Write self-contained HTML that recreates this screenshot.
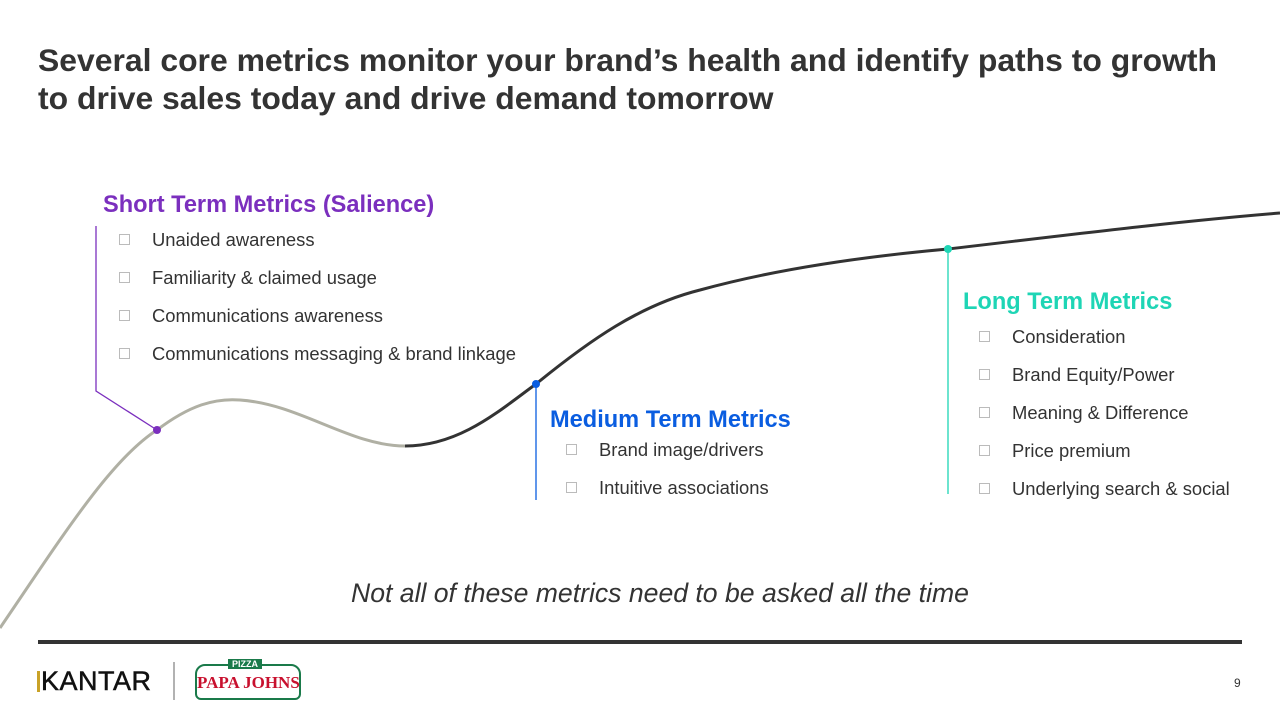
<!DOCTYPE html>
<html><head><meta charset="utf-8"><style>
body{margin:0;width:1280px;height:720px;position:relative;background:#fff;font-family:"Liberation Sans",Arial,sans-serif;overflow:hidden}
.t{position:absolute;white-space:nowrap}
h1{position:absolute;left:38px;top:41px;margin:0;font-size:31.9px;line-height:38px;font-weight:bold;color:#333}
.hd{font-weight:bold;font-size:23.6px}
.li{font-size:18.4px;color:#333}
.bx{display:inline-block;width:9px;height:9px;border:1px solid #bbb;margin-right:22px;vertical-align:1px}
</style></head><body>
<h1>Several core metrics monitor your brand’s health and identify paths to growth<br>to drive sales today and drive demand tomorrow</h1>
<svg width="1280" height="720" style="position:absolute;left:0;top:0">
<path d="M0,628 C60,540 110,460 157,430 C190,405 215,398 240,400 C300,404 350,446 405,446" fill="none" stroke="#b0b0a4" stroke-width="3"/>
<path d="M405,446 C460,446 500,410 536,384 C590,340 640,305 700,290 C780,268 870,256 948,249 C1060,236 1170,222 1280,213" fill="none" stroke="#333" stroke-width="3"/>
<polyline points="96,226 96,391 157,430" fill="none" stroke="#7b2fbe" stroke-width="1.3"/>
<circle cx="157" cy="430" r="4" fill="#7b2fbe"/>
<line x1="536" y1="384" x2="536" y2="500" stroke="#0a5de0" stroke-width="1.3"/>
<circle cx="536" cy="384" r="4" fill="#0a5de0"/>
<line x1="948" y1="249" x2="948" y2="494" stroke="#1ed5b5" stroke-width="1.3"/>
<circle cx="948" cy="249" r="4" fill="#1ed5b5"/>
<rect x="38" y="640" width="1204" height="4" fill="#333"/>
<line x1="174" y1="662" x2="174" y2="700" stroke="#999" stroke-width="1.5"/>
<rect x="37" y="671" width="3" height="21" fill="#c9a227"/>
</svg>
<div class="t hd" style="left:103px;top:192px;color:#7b2fbe">Short Term Metrics (Salience)</div>
<div class="t li" style="left:119px;top:229px"><span class="bx"></span>Unaided awareness</div>
<div class="t li" style="left:119px;top:267px"><span class="bx"></span>Familiarity &amp; claimed usage</div>
<div class="t li" style="left:119px;top:305px"><span class="bx"></span>Communications awareness</div>
<div class="t li" style="left:119px;top:343px"><span class="bx"></span>Communications messaging &amp; brand linkage</div>
<div class="t hd" style="left:550px;top:407px;color:#0a5de0">Medium Term Metrics</div>
<div class="t li" style="left:566px;top:439px"><span class="bx"></span>Brand image/drivers</div>
<div class="t li" style="left:566px;top:477px"><span class="bx"></span>Intuitive associations</div>
<div class="t hd" style="left:963px;top:289px;color:#1ed5b5">Long Term Metrics</div>
<div class="t li" style="left:979px;top:326px"><span class="bx"></span>Consideration</div>
<div class="t li" style="left:979px;top:364px"><span class="bx"></span>Brand Equity/Power</div>
<div class="t li" style="left:979px;top:402px"><span class="bx"></span>Meaning &amp; Difference</div>
<div class="t li" style="left:979px;top:440px"><span class="bx"></span>Price premium</div>
<div class="t li" style="left:979px;top:478px"><span class="bx"></span>Underlying search &amp; social</div>
<div class="t" style="left:351px;top:578px;font-size:26.6px;font-style:italic;color:#333">Not all of these metrics need to be asked all the time</div>
<div class="t" style="left:41px;top:666px;font-size:27px;color:#111;letter-spacing:0.5px;-webkit-text-stroke:0.5px #111">KANTAR</div>
<div class="t" style="left:195px;top:664px;width:106px;height:36px;border:2px solid #1a7a4a;border-radius:10px 10px 6px 6px;box-sizing:border-box;text-align:center;color:#c8102e;font-weight:bold;font-size:17px;line-height:34px;font-family:'Liberation Serif',serif">PAPA JOHNS</div>
<div class="t" style="left:228px;top:659px;font-size:9px;color:#fff;background:#1a7a4a;padding:0 4px;font-weight:bold">PIZZA</div>
<div class="t" style="left:1234px;top:676px;font-size:12px;color:#333">9</div>
</body></html>
